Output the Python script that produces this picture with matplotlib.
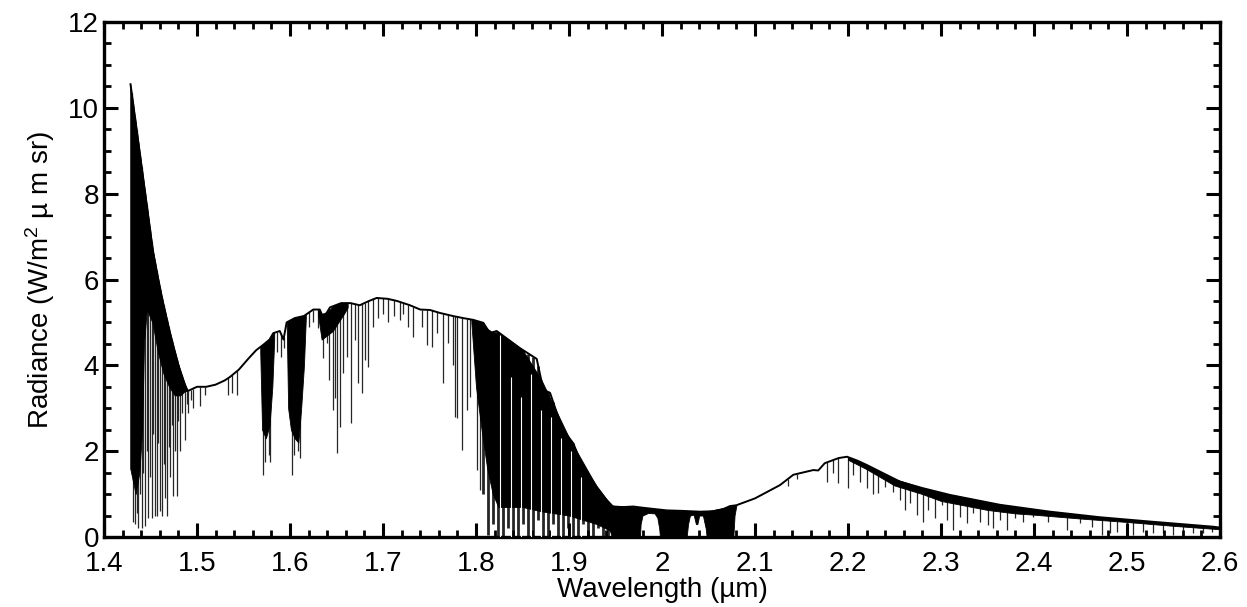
import numpy as np
import matplotlib
matplotlib.use("Agg")
import matplotlib.pyplot as plt
from matplotlib.ticker import MultipleLocator, FuncFormatter

plt.rcParams["font.family"] = ["Liberation Sans", "DejaVu Sans"]
plt.rcParams["mathtext.fontset"] = "custom"
plt.rcParams["mathtext.rm"] = "Liberation Sans"
plt.rcParams["mathtext.default"] = "regular"

# upper envelope (continuum) of the spectrum
cont_wl = [1.4285, 1.440, 1.453, 1.462, 1.471, 1.480, 1.487, 1.490, 1.495, 1.500,
           1.510, 1.520, 1.530, 1.5355, 1.545, 1.555, 1.5635, 1.5713, 1.578, 1.582,
           1.589, 1.593, 1.5964, 1.605, 1.615, 1.625, 1.632, 1.636, 1.643, 1.655,
           1.665, 1.675, 1.685, 1.6932, 1.705, 1.715, 1.729, 1.740, 1.7505, 1.7613,
           1.775, 1.7864, 1.797, 1.8079, 1.815, 1.8222, 1.8473, 1.8653, 1.8724, 1.8796,
           1.8868, 1.8939, 1.9047, 1.9118, 1.9226, 1.9298, 1.9405, 1.9477, 1.960, 1.9692,
           1.980, 2.005, 2.020, 2.0409, 2.055, 2.065, 2.073, 2.080, 2.100, 2.1269,
           2.1412, 2.1627, 2.168, 2.175, 2.190, 2.199, 2.210, 2.220, 2.2559, 2.280,
           2.3097, 2.3634, 2.4172, 2.471, 2.5247, 2.5925, 2.600]
cont_rad = [10.55, 8.7, 6.6, 5.6, 4.75, 4.0, 3.55, 3.4, 3.45, 3.5,
            3.5, 3.55, 3.65, 3.73, 3.9, 4.15, 4.35, 4.48, 4.6, 4.75,
            4.8, 4.6, 5.0, 5.1, 5.15, 5.3, 5.3, 5.1, 5.35, 5.45,
            5.45, 5.4, 5.5, 5.57, 5.55, 5.5, 5.4, 5.3, 5.29, 5.22,
            5.15, 5.1, 5.06, 4.99, 4.75, 4.8, 4.4, 4.15, 3.43, 3.36,
            2.9, 2.49, 2.18, 1.79, 1.41, 1.17, 0.86, 0.70, 0.70, 0.71,
            0.68, 0.62, 0.61, 0.59, 0.60, 0.64, 0.72, 0.74, 0.90, 1.21,
            1.45, 1.56, 1.55, 1.72, 1.84, 1.87, 1.78, 1.68, 1.29, 1.14,
            0.98, 0.75, 0.59, 0.46, 0.36, 0.24, 0.22]

# lower edge of the blacked-out line forests
forest_a_wl = [1.4282, 1.434, 1.438, 1.441, 1.443, 1.446, 1.452, 1.458, 1.464, 1.470,
               1.476, 1.482, 1.487, 1.489]
forest_a_lo = [1.6, 1.0, 1.5, 2.5, 4.5, 5.3, 5.0, 4.3, 3.8, 3.5,
               3.3, 3.3, 3.4, 3.4]

band_1575_wl = [1.568, 1.570, 1.574, 1.578, 1.581, 1.583]
band_1575_lo = [4.3, 2.5, 2.3, 2.6, 3.5, 4.6]

band_1608_wl = [1.5965, 1.598, 1.601, 1.605, 1.609, 1.612, 1.615, 1.617]
band_1608_lo = [4.9, 3.0, 2.5, 2.3, 2.2, 3.0, 4.0, 5.1]

band_1645_wl = [1.630, 1.634, 1.640, 1.646, 1.652, 1.658, 1.662]
band_1645_lo = [5.2, 4.6, 4.7, 4.8, 5.0, 5.2, 5.35]

forest_b_wl = [1.795, 1.800, 1.806, 1.812, 1.818, 1.824, 1.850, 1.870, 1.900, 1.930,
               1.944, 1.946, 1.9763, 1.977, 1.979, 1.985, 1.992, 1.995, 1.997,
               1.9978, 2.0265, 2.028, 2.030, 2.034, 2.0365, 2.038, 2.040, 2.044, 2.047,
               2.048, 2.0767, 2.078, 2.080]
forest_b_lo = [5.0, 3.5, 2.5, 1.6, 1.0, 0.7, 0.7, 0.6, 0.5, 0.3,
               0.15, 0.0, 0.0, 0.3, 0.5, 0.56, 0.55, 0.45, 0.2,
               0.0, 0.0, 0.3, 0.5, 0.52, 0.3, 0.3, 0.5, 0.5, 0.2,
               0.0, 0.0, 0.5, 0.74]

forest_c_wl = [2.200, 2.220, 2.250, 2.280, 2.300, 2.350, 2.380, 2.400, 2.450, 2.500,
               2.550, 2.600]
forest_c_lo = [1.8, 1.58, 1.2, 1.0, 0.84, 0.63, 0.55, 0.52, 0.43, 0.35,
               0.26, 0.18]

# narrow windows between lines in the 1.82-1.92 forest
gaps_wl = [1.8262, 1.8374, 1.8482, 1.8589, 1.8697, 1.8804, 1.8912, 1.9020, 1.9127]
gaps_hi = [4.7, 3.73, 3.26, 3.8, 2.95, 2.8, 2.3, 2.0, 1.4]

# individual absorption lines: centre and minimum radiance
lines_wl = [
    1.4298, 1.4312, 1.4333, 1.4352, 1.4369, 1.4388, 1.4405, 1.4424, 1.4441, 1.4460,
    1.4478, 1.4495, 1.4513, 1.4530, 1.4548, 1.4566, 1.4584, 1.4602, 1.4620, 1.4640,
    1.4656, 1.4674, 1.4694, 1.4710, 1.4728, 1.4745, 1.4765, 1.4781, 1.4800, 1.4817,
    1.4840, 1.4871, 1.4890, 1.4907, 1.4935, 1.4960, 1.5032, 1.5090, 1.5334, 1.5380,
    1.5427,
    1.5715, 1.5735, 1.5770, 1.5790, 1.5860, 1.5900, 1.5935, 1.6025, 1.6045, 1.6090,
    1.6105,
    1.6205, 1.6250, 1.6305, 1.6358, 1.6394, 1.6423, 1.6458, 1.6484, 1.6509, 1.6538,
    1.6566, 1.6609, 1.6652, 1.6699, 1.6735, 1.6771, 1.6806, 1.6842, 1.6896, 1.6950,
    1.7000, 1.7050, 1.7120, 1.7180, 1.7220, 1.7270, 1.7326, 1.7416, 1.7470, 1.7524,
    1.7577, 1.7649, 1.7702, 1.7756, 1.7774, 1.7792, 1.7846, 1.7900, 1.7935, 1.8007,
    1.8043,
    1.8079, 1.8133, 1.8186, 1.8240, 1.8294, 1.8348, 1.8401, 1.8455, 1.8509, 1.8563,
    1.8616, 1.8670, 1.8724, 1.8778, 1.8831, 1.8885, 1.8939, 1.8993, 1.9047, 1.9100,
    1.9154, 1.9208, 1.9262, 1.9315, 1.9369, 1.9423,
    2.1350, 2.1450, 2.1770, 2.1842, 2.1896, 2.2003, 2.2057, 2.2129, 2.2201, 2.2272,
    2.2326, 2.2398, 2.2488, 2.2559, 2.2613, 2.2667, 2.2738, 2.2810, 2.2864, 2.2935,
    2.3007, 2.3061, 2.3132, 2.3204, 2.3276, 2.3348, 2.3419, 2.3509, 2.3563, 2.3634,
    2.3706, 2.3796, 2.3885, 2.3993, 2.4154, 2.4351, 2.4495, 2.4620, 2.4728, 2.4817,
    2.4889, 2.4996, 2.5068, 2.5176, 2.5283, 2.5391, 2.5498, 2.5606, 2.5713, 2.5821,
    2.5911]
lines_min = [
    1.85, 0.35, 0.30, 0.55, 0.22, 1.0, 0.20, 1.5, 0.25, 2.0,
    0.45, 1.4, 0.45, 2.4, 0.50, 0.50, 2.2, 0.60, 0.50, 1.7,
    0.90, 0.50, 2.1, 1.4, 2.6, 0.95, 2.0, 0.95, 2.7, 2.0,
    2.9, 2.25, 3.1, 2.9, 3.2, 3.0, 3.05, 3.3, 3.3, 3.35,
    3.3,
    1.45, 1.75, 1.9, 1.75, 4.3, 4.2, 4.4, 1.45, 1.9, 2.0,
    1.85,
    4.9, 5.0, 4.87, 4.17, 4.52, 3.66, 2.96, 3.24, 1.96, 2.56,
    3.82, 4.2, 2.66, 4.59, 3.59, 3.36, 4.13, 3.96, 4.9, 5.1,
    5.2, 5.0, 5.15, 5.05, 5.2, 4.9, 4.66, 4.9, 4.48, 4.43,
    4.76, 3.6, 4.52, 4.0, 2.8, 2.77, 2.03, 2.96, 3.26, 1.56,
    1.1,
    1.0, 0.05, 0.3, 0.0, 0.0, 0.2, 0.0, 0.0, 0.3, 0.0,
    0.0, 0.4, 0.0, 0.0, 0.3, 0.0, 0.0, 0.2, 0.0, 0.0,
    0.3, 0.0, 0.0, 0.2, 0.0, 0.0,
    1.2, 1.35, 1.29, 1.49, 1.25, 1.14, 1.45, 1.29, 1.14, 1.0,
    1.03, 1.17, 1.06, 0.86, 0.63, 0.79, 0.51, 0.36, 0.63, 0.44,
    0.75, 0.40, 0.16, 0.47, 0.33, 0.56, 0.36, 0.28, 0.21, 0.40,
    0.16, 0.44, 0.36, 0.47, 0.36, 0.16, 0.33, 0.24, 0.05, 0.09,
    0.12, 0.09, 0.05, 0.12, 0.09, 0.09, 0.05, 0.12, 0.09, 0.09,
    0.12]

fig = plt.figure(figsize=(12.47, 6.07), dpi=100)
ax = fig.add_axes([104 / 1247, 70 / 607, 1116 / 1247, 515 / 607])


def top_at(wl):
    return np.interp(wl, cont_wl, cont_rad)


# single lines at the bottom, the saturated forests are painted over them;
# lines in the crowded 1.8-1.95 forest are drawn wider
wl_arr = np.array(lines_wl)
widths = np.where((wl_arr > 1.805) & (wl_arr < 1.95), 2.0, 0.9)
ax.vlines(wl_arr, lines_min, top_at(wl_arr), color="0.15", lw=widths, zorder=1)

for wl, lo in [(forest_a_wl, forest_a_lo), (band_1575_wl, band_1575_lo),
               (band_1608_wl, band_1608_lo), (band_1645_wl, band_1645_lo),
               (forest_b_wl, forest_b_lo), (forest_c_wl, forest_c_lo)]:
    wl = np.array(wl)
    ax.fill_between(wl, lo, top_at(wl), facecolor="black", edgecolor="black",
                    lw=0.6, zorder=2)

ax.vlines(gaps_wl, 0, gaps_hi, color="white", lw=0.8, zorder=3)
ax.plot(cont_wl, cont_rad, color="black", lw=1.4, zorder=4)

ax.set_xlim(1.4, 2.6)
ax.set_ylim(0, 12)
ax.xaxis.set_major_locator(MultipleLocator(0.1))
ax.xaxis.set_minor_locator(MultipleLocator(0.02))
ax.yaxis.set_major_locator(MultipleLocator(2))
ax.yaxis.set_minor_locator(MultipleLocator(0.5))
ax.xaxis.set_major_formatter(FuncFormatter(
    lambda v, _: "2" if abs(v - 2) < 1e-6 else "%.1f" % v))

ax.tick_params(which="both", direction="in", top=True, right=True, labelsize=20)
ax.tick_params(axis="x", which="major", pad=10)
ax.tick_params(which="major", length=10, width=2.2)
ax.tick_params(which="minor", length=5, width=2.0)
for s in ax.spines.values():
    s.set_linewidth(2.4)

ax.set_xlabel("Wavelength (µm)", fontsize=20, labelpad=0)
ax.set_ylabel("Radiance (W/m$^{2}$ µ m sr)", fontsize=20, labelpad=8)

fig.savefig("out.png", dpi=100)
